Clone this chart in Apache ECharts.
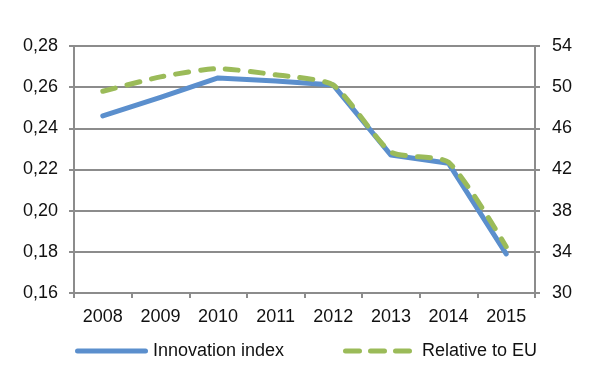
<!DOCTYPE html>
<html>
<head>
<meta charset="utf-8">
<script src="https://cdn.jsdelivr.net/npm/echarts@6/dist/echarts.min.js"></script>
<style>
    html, body {margin:0;padding:0;background:#ffffff;}
    #chart {width:600px;height:375px;}
</style>
</head>
<body>
<div id="chart"></div>
<script>
    // data
    var years = ['2008', '2009', '2010', '2011', '2012', '2013', '2014', '2015'];
    var innovationIndex = [0.246, 0.255, 0.2645, 0.263, 0.261, 0.227, 0.223, 0.179];
    var relativeToEU = [49.6, 51.0, 51.8, 51.2, 50.2, 43.7, 42.7, 34.5];

    var gray = '#8c8c8c';
    var font = {fontFamily: 'Liberation Sans', fontSize: 18, color: '#111111'};

    // legend icons: a thick rounded line and three rounded dashes
    var solidIcon = 'path://M2.5,0 L70.5,0 A2.5,2.5 0 0 1 70.5,5 L2.5,5 A2.5,2.5 0 0 1 2.5,0 Z';
    var dashIcon = 'path://M2.5,0 L16.5,0 A2.5,2.5 0 0 1 16.5,5 L2.5,5 A2.5,2.5 0 0 1 2.5,0 Z ' +
        'M27.5,0 L41.5,0 A2.5,2.5 0 0 1 41.5,5 L27.5,5 A2.5,2.5 0 0 1 27.5,0 Z ' +
        'M52.5,0 L66.5,0 A2.5,2.5 0 0 1 66.5,5 L52.5,5 A2.5,2.5 0 0 1 52.5,0 Z';

    var myChart = echarts.init(document.getElementById('chart'));
    var option = {
        animation: false,
        backgroundColor: '#ffffff',
        grid: {left: 74, right: 65, top: 46, bottom: 82},
        legend: [
            {
                left: 70, top: 337,
                itemWidth: 73, itemHeight: 5,
                textStyle: font,
                data: [{name: 'Innovation index', icon: solidIcon}]
            },
            {
                left: 338, top: 337,
                itemWidth: 69, itemHeight: 5,
                textStyle: Object.assign({padding: [0, 0, 0, 5]}, font),
                data: [{name: 'Relative to EU', icon: dashIcon}]
            }
        ],
        xAxis: {
            type: 'category',
            data: years,
            boundaryGap: true,
            axisLine: {lineStyle: {color: gray, width: 2}},
            axisTick: {show: true, length: 5, lineStyle: {color: gray, width: 2}},
            axisLabel: Object.assign({margin: 15}, font)
        },
        yAxis: [
            {
                type: 'value',
                min: 0.16, max: 0.28, interval: 0.02,
                axisLine: {show: true, lineStyle: {color: gray, width: 2}},
                axisTick: {show: true, length: 5, lineStyle: {color: gray, width: 2}},
                splitLine: {lineStyle: {color: gray, width: 2}},
                axisLabel: Object.assign({
                    margin: 16,
                    formatter: function (v) { return v.toFixed(2).replace('.', ','); }
                }, font)
            },
            {
                type: 'value',
                min: 30, max: 54, interval: 4,
                position: 'right',
                axisLine: {show: true, lineStyle: {color: gray, width: 2}},
                axisTick: {show: true, length: 5, lineStyle: {color: gray, width: 2}},
                splitLine: {show: false},
                axisLabel: Object.assign({margin: 17}, font)
            }
        ],
        series: [
            {
                name: 'Innovation index',
                type: 'line',
                yAxisIndex: 0,
                data: innovationIndex,
                symbol: 'none',
                color: '#5b8fcd',
                lineStyle: {width: 5, color: '#5b8fcd', cap: 'round', join: 'round'}
            },
            {
                name: 'Relative to EU',
                type: 'line',
                yAxisIndex: 1,
                data: relativeToEU,
                smooth: 0.2,
                symbol: 'none',
                color: '#9bbb59',
                lineStyle: {width: 5, color: '#9bbb59', type: [13, 12], cap: 'round', join: 'round'}
            }
        ]
    };
    myChart.setOption(option);
</script>
</body>
</html>
